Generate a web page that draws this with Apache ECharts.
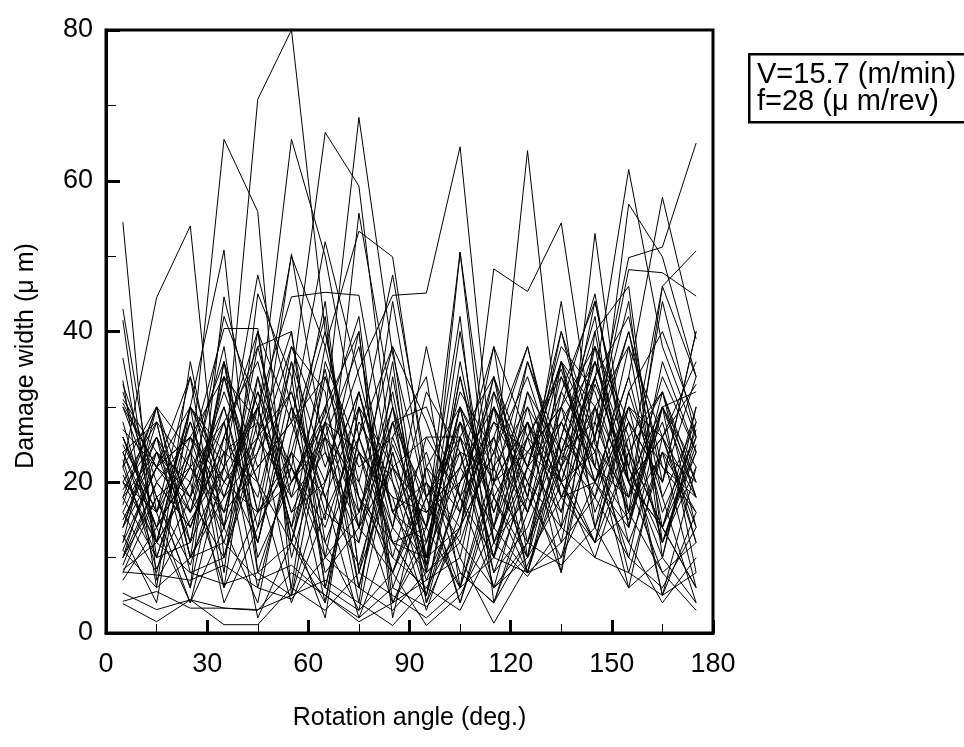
<!DOCTYPE html>
<html><head><meta charset="utf-8">
<script src="https://cdn.jsdelivr.net/npm/echarts@6/dist/echarts.min.js"></script>
<style>html,body{margin:0;padding:0;background:#fff}#c{width:964px;height:747px}</style>
</head><body><div id="c"></div>
<script>
const angles = [5,15,25,35,45,55,65,75,85,95,105,115,125,135,145,155,165,175];
const xTicks = [0,30,60,90,120,150,180];
const yTicks = [0,20,40,60,80];
const xTitle = 'Rotation angle (deg.)';
const yTitle = 'Damage width (μ m)';
const legendLines = ['V=15.7 (m/min)', 'f=28 (μ m/rev)'];

const s01 = [54.5, 7, 15, 22, 12, 30, 18, 9, 25, 14, 6, 20, 28, 16, 33, 22, 12, 25];
const s02 = [22, 44.5, 54, 10, 26, 18, 35, 14, 8, 22, 30, 12, 18, 40, 22, 15, 30, 20];
const s03 = [14, 28, 22, 65.5, 55.9, 5, 20, 32, 16, 9, 26, 18, 8, 24, 36, 20, 14, 27];
const s04 = [20, 12, 30, 22, 70.8, 80, 40, 18, 10, 6, 14, 24, 34, 20, 12, 30, 22, 16];
const s05 = [30, 18, 9, 24, 28, 65.5, 50, 26, 12, 5, 20, 32, 16, 28, 18, 38, 26, 12];
const s06 = [10, 24, 16, 30, 12, 33, 66.4, 59.3, 22, 26, 18, 10, 26, 35, 20, 14, 36, 24];
const s07 = [25, 16, 28, 14, 38, 20, 29, 68.4, 37, 18, 6, 22, 30, 14, 26, 40, 18, 28];
const s08 = [18, 30, 12, 36, 22, 28, 15, 55.7, 30, 12, 24, 8, 20, 32, 44, 22, 10, 30];
const s09 = [16, 8, 26, 18, 30, 14, 38, 53.3, 49.9, 20, 14, 34, 18, 10, 28, 16, 30, 18];
const s10 = [12, 22, 18, 32, 20, 50.3, 24, 12, 30, 16, 22, 14, 36, 24, 18, 30, 12, 22];
const s11 = [24, 14, 30, 20, 26, 50, 38, 20, 8, 18, 28, 20, 12, 22, 30, 20, 26, 14];
const s12 = [8, 18, 22, 14, 40, 28, 51.9, 34, 16, 24, 10, 30, 22, 16, 38, 28, 20, 34];
const s13 = [33, 20, 14, 26, 18, 36, 22, 35, 44.8, 45.1, 64.5, 20, 28, 18, 30, 16, 24, 20];
const s14 = [20, 28, 10, 18, 32, 16, 26, 20, 38, 8, 50.5, 12, 24, 30, 14, 26, 32, 18];
const s15 = [28, 12, 20, 30, 14, 24, 18, 30, 22, 14, 50.5, 18, 10, 26, 20, 34, 16, 26];
const s16 = [14, 26, 18, 10, 24, 32, 16, 26, 14, 8, 13, 48.3, 45.3, 54.4, 25, 18, 28, 12];
const s17 = [22, 10, 24, 16, 34, 20, 30, 14, 28, 18, 24, 21.5, 64, 23, 34, 20, 14, 30];
const s18 = [10, 20, 26, 34, 16, 22, 12, 24, 18, 3, 16, 30, 20, 14, 53, 20, 30, 22];
const s19 = [18, 24, 12, 22, 30, 14, 28, 18, 12, 10, 34, 14, 26, 20, 33.7, 61.5, 38, 26];
const s20 = [26, 14, 22, 28, 12, 30, 20, 32, 16, 20, 12, 26, 16, 30, 22, 56.9, 49.9, 34];
const s21 = [12, 30, 16, 24, 20, 12, 34, 22, 26, 14, 28, 10, 32, 24, 28, 49.8, 51.2, 65];
const s22 = [30, 22, 26, 12, 28, 22, 14, 28, 20, 10, 22, 30, 18, 36, 26, 48.2, 47.8, 44.7];
const s23 = [20, 16, 34, 18, 24, 38, 26, 16, 30, 4, 14, 24, 38, 18, 20, 34, 57.8, 39];
const s24 = [16, 26, 14, 28, 36, 18, 24, 14, 22, 7, 18, 34, 22, 28, 36, 22, 46, 50.7];
const s25 = [24, 12, 30, 50.8, 8, 5, 28, 42, 6, 18, 26, 10, 22, 36, 30, 12, 24, 6];
const s26 = [10, 18, 6, 44.6, 26, 40, 12, 3, 24, 9, 34, 16, 28, 8, 40, 46, 12, 24];
const s27 = [18, 10, 24, 40.4, 40.4, 12, 4, 26, 38, 28, 16, 38, 10, 32, 24, 6, 26, 36];
const s28 = [26, 14, 4, 22, 47.5, 30, 8, 14, 44, 18, 4, 20, 24, 30, 45, 20, 8, 12];
const s29 = [14, 22, 34, 8, 45, 34, 6, 26, 47.5, 22, 8, 4, 18, 44, 14, 32, 40, 28];
const s30 = [22, 30, 10, 20, 30, 44.6, 45.2, 44.8, 20, 5, 26, 34, 12, 24, 38, 26, 5, 16];
const s31 = [3.9, 1.5, 4.4, 1.1, 1.1, 6, 3, 8, 5, 2, 6, 10, 8, 12, 18, 10, 6, 14];
const s32 = [5.3, 3.1, 4.4, 3.3, 3, 8, 5, 2, 6, 3.5, 8, 4, 12, 9, 14, 6, 10, 4];
const s33 = [4.2, 5.5, 3.3, 3.3, 3.1, 5, 7, 4, 1, 6, 3, 12, 7.5, 14, 10, 8, 5, 8];
const s34 = [8.1, 7.7, 7.0, 9, 6, 4.5, 10, 6, 3, 8, 12, 6, 10, 18, 12, 16, 8, 3];
const s35 = [8.4, 12, 8, 6.5, 8, 12, 6, 3, 8, 1, 5, 14, 8, 10, 20, 12, 4, 10];
const s36 = [11, 6, 10, 12, 7, 9, 5, 1.5, 4, 7, 10, 1.3, 9, 20, 12, 24, 14, 6];
const s37 = [36.5, 12, 20, 6, 34, 12, 30, 40, 4, 12, 30, 8, 14, 26, 40, 16, 46, 34];
const s38 = [33.5, 6, 36, 14, 4, 26, 42, 8, 28, 30, 18, 26, 38, 20, 10, 24, 5, 22];
const s39 = [32, 18, 6, 26, 40, 10, 26, 4, 34, 10, 40, 12, 22, 40, 26, 8, 24, 16];
const s40 = [43, 16, 24, 36, 8, 22, 10, 32, 14, 32, 24, 6, 12, 30, 38, 14, 32, 20];
const s41 = [41.5, 10, 12, 34, 28, 6, 36, 24, 8, 20, 4, 18, 26, 12, 34, 42, 20, 40];
const s42 = [30.5, 22, 30, 6, 16, 38, 32, 6, 24, 8, 30, 22, 10, 36, 20, 28, 12, 26];
const s43 = [23, 8.5, 18, 28, 6, 24, 4, 30, 12, 14, 42, 4, 16, 34, 24, 10, 30, 32];
const s44 = [19, 26, 8, 10, 30, 16, 20, 40, 2, 22, 16, 28, 20, 8, 30, 38, 14, 6];
const s45 = [17, 30, 24, 4, 14, 36, 10, 16, 32, 9, 36, 14, 30, 22, 44, 24, 32, 14];
const s46 = [13, 4, 30, 24, 2, 12, 28, 6, 26, 34, 6, 32, 22, 36, 16, 28, 20, 40];
const s47 = [27, 22, 16, 34, 20, 4, 16, 12, 36, 4, 20, 26, 8, 22, 34, 20, 26, 18];
const s48 = [9, 20, 14, 26, 38, 40, 6, 24, 12, 5, 28, 16, 32, 18, 26, 44, 10, 28];
const s49 = [21, 12, 28, 16, 32, 22, 44, 8, 22, 16, 22, 38, 26, 34, 22, 18, 34, 24];
const s50 = [15, 24, 20, 38, 10, 20, 26, 38, 16, 12, 30, 20, 36, 22, 12, 32, 18, 4];
const s51 = [26, 16, 4, 14, 26, 32, 18, 2, 14, 38, 18, 6, 22, 38, 32, 18, 44, 26];
const s52 = [11, 22, 26, 20, 16, 24, 40, 16, 28, 10, 14, 30, 8, 26, 42, 14, 30, 8];
const s53 = [31, 24, 18, 42, 30, 14, 2, 30, 10, 26, 26, 10, 28, 20, 24, 40, 22, 18];
const s54 = [7, 14, 22, 16, 22, 28, 34, 18, 4, 14, 32, 24, 16, 28, 20, 30, 26, 33];
const s55 = [24, 28, 10, 36, 16, 20, 28, 24, 18, 16, 20, 28, 24, 20, 36, 24, 14, 24];

const allSeries = [s01,s02,s03,s04,s05,s06,s07,s08,s09,s10,s11,s12,s13,s14,s15,s16,s17,s18,s19,s20,
  s21,s22,s23,s24,s25,s26,s27,s28,s29,s30,s31,s32,s33,s34,s35,s36,s37,s38,s39,s40,
  s41,s42,s43,s44,s45,s46,s47,s48,s49,s50,s51,s52,s53,s54,s55];

const FONT = "'Liberation Sans', Arial, Helvetica, sans-serif";
const chart = echarts.init(document.getElementById('c'), null, {renderer: 'canvas'});

const series = allSeries.map((vals, i) => ({
  type: 'line',
  name: 'run' + (i + 1),
  data: vals.map((v, j) => [angles[j], v]),
  showSymbol: false,
  symbol: 'none',
  lineStyle: {color: '#000', width: 1},
  silent: true,
  z: 2
}));

chart.setOption({
  animation: false,
  backgroundColor: '#fff',
  grid: {left: 106, top: 30, width: 607, height: 603, show: true, borderColor: '#000', borderWidth: 3, backgroundColor: 'transparent'},
  xAxis: {
    type: 'value', min: xTicks[0], max: xTicks[xTicks.length - 1], interval: xTicks[1] - xTicks[0],
    name: xTitle, nameLocation: 'middle', nameGap: 73,
    nameTextStyle: {fontFamily: FONT, fontSize: 25, color: '#000'},
    axisLine: {show: true, lineStyle: {color: '#000', width: 3}},
    axisTick: {show: true, inside: true, length: 13, lineStyle: {color: '#000', width: 3}},
    minorTick: {show: true, splitNumber: 2, length: 9, lineStyle: {color: '#000', width: 1}},
    axisLabel: {fontFamily: FONT, fontSize: 27, color: '#000', margin: 18},
    splitLine: {show: false}
  },
  yAxis: {
    type: 'value', min: yTicks[0], max: yTicks[yTicks.length - 1], interval: yTicks[1] - yTicks[0],
    axisLine: {show: true, lineStyle: {color: '#000', width: 3}},
    axisTick: {show: true, inside: true, length: 14, lineStyle: {color: '#000', width: 3}},
    minorTick: {show: true, splitNumber: 2, length: 10, lineStyle: {color: '#000', width: 1}},
    axisLabel: {fontFamily: FONT, fontSize: 27, color: '#000', margin: 13},
    splitLine: {show: false}
  },
  graphic: [
    {type: 'text', x: 26, y: 356, rotation: Math.PI / 2,
     style: {text: yTitle, font: "25px 'Liberation Sans', Arial, sans-serif", fill: '#000', align: 'center', verticalAlign: 'middle'}, z: 11},
    {type: 'rect', left: 748, top: 53, shape: {x: 0, y: 0, width: 240, height: 68},
     style: {fill: '#fff', stroke: '#000', lineWidth: 2.5}, z: 10},
    {type: 'text', left: 757, top: 60, style: {text: legendLines[0], font: "29px 'Liberation Sans', Arial, sans-serif", fill: '#000'}, z: 11},
    {type: 'text', left: 757, top: 87, style: {text: legendLines[1], font: "29px 'Liberation Sans', Arial, sans-serif", fill: '#000'}, z: 11}
  ],
  series: series
});
</script>
</body></html>
